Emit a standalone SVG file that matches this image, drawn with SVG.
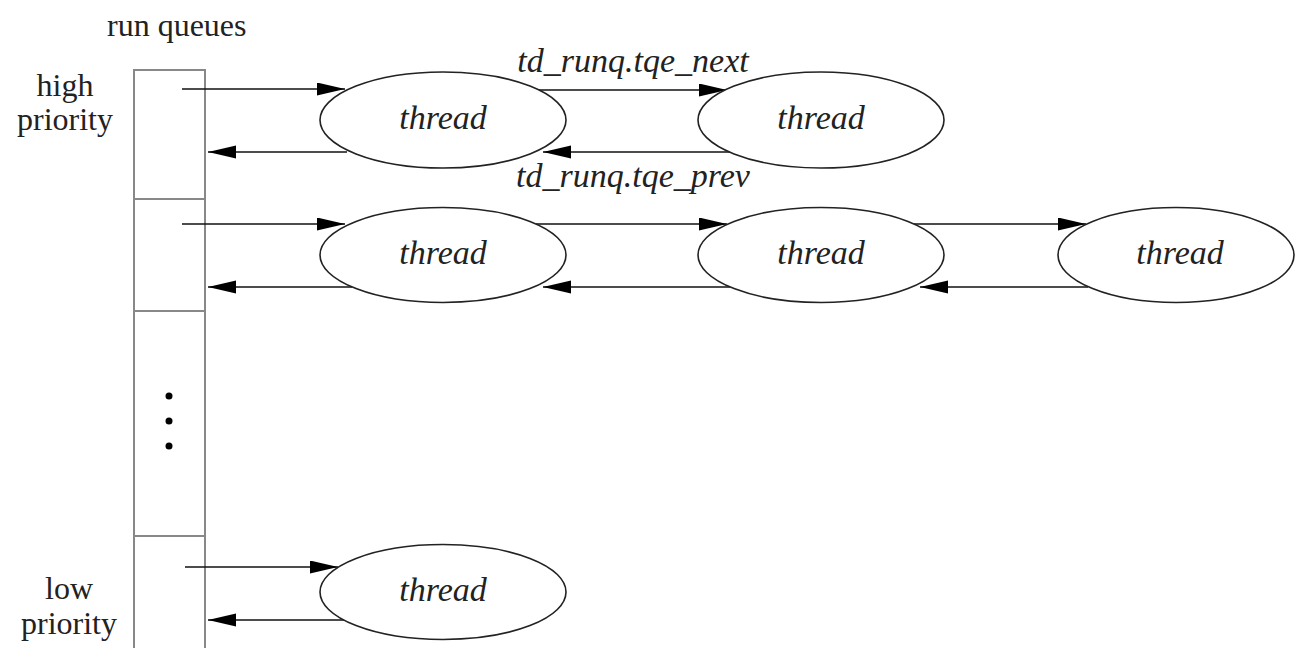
<svg xmlns="http://www.w3.org/2000/svg" width="1295" height="648" viewBox="0 0 1295 648">
<style>
.lbl{font-family:'Liberation Serif','DejaVu Serif',serif;font-size:32px;fill:#222}
.it{font-family:'Liberation Serif','DejaVu Serif',serif;font-size:34px;font-style:italic;fill:#222}
.node{fill:#fff;stroke:#222;stroke-width:1.6}
.box{fill:none;stroke:#888;stroke-width:2}
.conn{stroke:#111;stroke-width:1.5;fill:none;marker-end:url(#ah)}
</style>
<defs>
<marker id="ah" markerUnits="userSpaceOnUse" markerWidth="28" markerHeight="14" refX="28" refY="6.5" orient="auto">
<path d="M0,0 L28,6.5 L0,13 z" fill="#000"/>
</marker>
</defs>
<rect width="1295" height="648" fill="#fff"/>
<g id="labels">
<text class="lbl" x="107" y="36">run queues</text>
<text class="lbl" x="65" y="96" text-anchor="middle">high</text>
<text class="lbl" x="65" y="130" text-anchor="middle">priority</text>
<text class="lbl" x="69" y="599" text-anchor="middle">low</text>
<text class="lbl" x="69" y="634" text-anchor="middle">priority</text>
<text class="it" x="633" y="72" text-anchor="middle">td_runq.tqe_next</text>
<text class="it" x="633" y="187" text-anchor="middle">td_runq.tqe_prev</text>
</g>
<g id="runqueue">
<rect class="box" x="134" y="70" width="71" height="600"/>
<line class="box" x1="134" y1="199" x2="205" y2="199"/>
<line class="box" x1="134" y1="311" x2="205" y2="311"/>
<line class="box" x1="134" y1="536" x2="205" y2="536"/>
<circle cx="169" cy="396" r="3.5" fill="#000"/>
<circle cx="169" cy="421" r="3.5" fill="#000"/>
<circle cx="169" cy="446" r="3.5" fill="#000"/>
</g>
<g id="connectors">
<line class="conn" x1="182" y1="89" x2="345" y2="89"/>
<line class="conn" x1="347" y1="152" x2="208" y2="152"/>
<line class="conn" x1="539" y1="90" x2="727" y2="90"/>
<line class="conn" x1="730" y1="152" x2="543" y2="152"/>
<line class="conn" x1="182" y1="224" x2="345" y2="224"/>
<line class="conn" x1="352" y1="287" x2="208" y2="287"/>
<line class="conn" x1="536" y1="224" x2="727" y2="224"/>
<line class="conn" x1="730" y1="287" x2="543" y2="287"/>
<line class="conn" x1="914" y1="224" x2="1086" y2="224"/>
<line class="conn" x1="1088" y1="287" x2="920" y2="287"/>
<line class="conn" x1="185" y1="567" x2="338" y2="567"/>
<line class="conn" x1="347" y1="620" x2="208" y2="620"/>
</g>
<g id="t1"><ellipse class="node" cx="443" cy="120" rx="123" ry="48"/><text class="it" x="443" y="129" text-anchor="middle">thread</text></g>
<g id="t2"><ellipse class="node" cx="821" cy="120" rx="123" ry="48"/><text class="it" x="821" y="129" text-anchor="middle">thread</text></g>
<g id="t3"><ellipse class="node" cx="443" cy="255" rx="123" ry="47.5"/><text class="it" x="443" y="264" text-anchor="middle">thread</text></g>
<g id="t4"><ellipse class="node" cx="821" cy="255" rx="123" ry="47.5"/><text class="it" x="821" y="264" text-anchor="middle">thread</text></g>
<g id="t5"><ellipse class="node" cx="1176" cy="255" rx="118" ry="47.5"/><text class="it" x="1180" y="264" text-anchor="middle">thread</text></g>
<g id="t6"><ellipse class="node" cx="443" cy="592" rx="123" ry="47.5"/><text class="it" x="443" y="601" text-anchor="middle">thread</text></g>
</svg>
